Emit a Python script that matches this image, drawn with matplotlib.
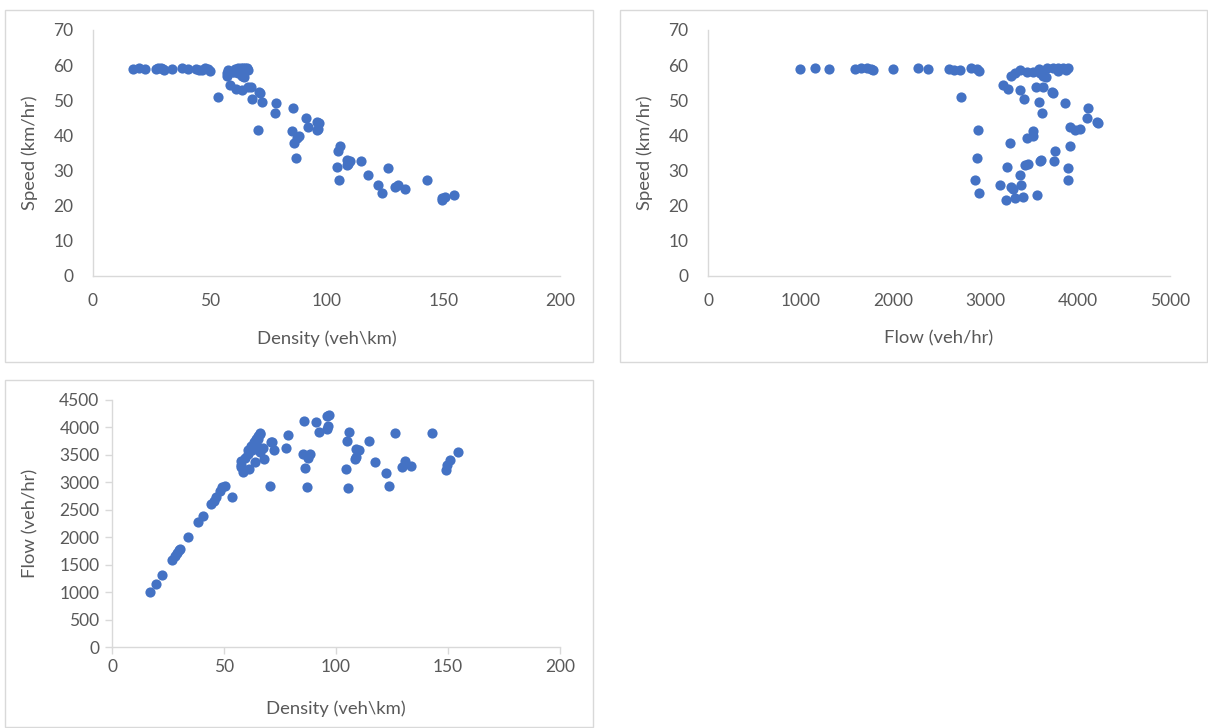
import matplotlib.pyplot as plt
from matplotlib.patches import Rectangle

# Traffic observations: density (veh/km), speed (km/hr), flow (veh/hr)
density = [17.0, 19.5, 22.3, 27.0, 28.0, 29.0, 30.0, 30.5, 34.0, 38.3, 40.5, 44.3, 45.5, 46.5, 48.0, 49.3, 50.3,
           57.6, 57.6, 57.7, 59.4, 60.5, 62.3, 63.7, 64.7, 62.0, 63.2, 64.1, 65.1, 66.2, 66.0, 65.0, 60.9,
           53.7, 58.7, 61.2, 63.8, 66.2, 67.5, 71.0, 71.6, 68.0, 72.2, 78.4, 77.8, 85.8, 91.2, 95.8, 96.8,
           92.2, 95.8, 96.5, 70.5, 85.1, 88.4, 87.5, 86.1, 86.9, 105.8, 105.1, 104.4, 105.5, 108.9, 110.1,
           108.6, 109.0, 114.6, 126.5, 117.6, 122.2, 123.6, 129.3, 130.8, 133.6, 142.9, 149.3, 149.6, 150.7,
           154.6]
speed = [58.8, 59.3, 58.9, 59.0, 59.2, 59.3, 58.9, 58.6, 58.8, 59.3, 58.8, 58.8, 58.6, 58.7, 59.2, 59.0, 58.4,
         57.0, 57.7, 58.6, 58.1, 58.1, 57.7, 56.9, 56.6, 59.1, 59.1, 59.1, 59.1, 58.6, 59.1, 58.3, 58.9,
         51.0, 54.4, 53.1, 52.9, 53.7, 53.7, 52.5, 52.2, 50.3, 49.6, 49.3, 46.5, 47.9, 45.0, 43.9, 43.6,
         42.5, 41.5, 41.7, 41.5, 41.3, 39.8, 39.4, 37.9, 33.5, 37.0, 35.7, 31.0, 27.4, 33.1, 32.6,
         31.6, 31.8, 32.7, 30.8, 28.7, 25.9, 23.7, 25.4, 25.9, 24.7, 27.3, 21.6, 22.2, 22.6,
         23.0]
flow = [1000, 1156, 1313, 1593, 1658, 1720, 1767, 1787, 2000, 2271, 2381, 2605, 2666, 2730, 2842, 2909, 2937,
        3283, 3323, 3381, 3451, 3515, 3595, 3625, 3662, 3664, 3735, 3788, 3847, 3879, 3901, 3790, 3587,
        2739, 3193, 3250, 3375, 3555, 3625, 3728, 3738, 3420, 3581, 3865, 3618, 4110, 4104, 4206, 4220,
        3918, 3976, 4024, 2926, 3515, 3518, 3447, 3263, 2911, 3915, 3752, 3236, 2891, 3604, 3589,
        3431, 3467, 3747, 3896, 3375, 3165, 2929, 3284, 3388, 3300, 3901, 3225, 3320, 3406,
        3556]

BLUE = "#4472C4"
TEXT = "#595959"
AXIS = "#D9D9D9"

plt.rcParams["font.family"] = ["Lato", "DejaVu Sans"]

fig = plt.figure(figsize=(12.08, 7.28), dpi=100)
W, H = 1208, 728

# panel frames
for x0, y0, x1, y1 in [(5, 10, 593, 362), (620, 10, 1207, 362), (5, 380, 593, 727)]:
    fig.patches.append(Rectangle((x0 / W, 1 - y1 / H), (x1 - x0) / W, (y1 - y0) / H,
                                 transform=fig.transFigure, fill=False, edgecolor=AXIS, linewidth=1))


def make_axes(left, right, top, bottom):
    ax = fig.add_axes([left / W, 1 - bottom / H, (right - left) / W, (bottom - top) / H])
    for side in ["top", "right"]:
        ax.spines[side].set_visible(False)
    for side in ["left", "bottom"]:
        ax.spines[side].set_color(AXIS)
        ax.spines[side].set_linewidth(1)
    ax.tick_params(colors=TEXT, labelsize=12.5)
    return ax


# 1. Speed vs density
ax1 = make_axes(93, 560, 30, 276)
ax1.scatter(density, speed, s=54, color=BLUE, zorder=3, linewidths=0)
ax1.set_xlim(0, 200)
ax1.set_ylim(0, 70)
ax1.set_xticks(range(0, 201, 50))
ax1.set_yticks(range(0, 71, 10))
ax1.tick_params(length=0, pad=12)
ax1.tick_params(axis="y", pad=14)
ax1.set_xlabel("Density (veh\\km)", color=TEXT, fontsize=13.3)
ax1.set_ylabel("Speed (km/hr)", color=TEXT, fontsize=13.3)
ax1.xaxis.set_label_coords(0.5, -0.22)
ax1.yaxis.set_label_coords(-0.118, 0.5)

# 2. Speed vs flow
ax2 = make_axes(708, 1170, 30, 276)
ax2.scatter(flow, speed, s=54, color=BLUE, zorder=3, linewidths=0)
ax2.set_xlim(0, 5000)
ax2.set_ylim(0, 70)
ax2.set_xticks(range(0, 5001, 1000))
ax2.set_yticks(range(0, 71, 10))
ax2.tick_params(length=0, pad=12)
ax2.tick_params(axis="y", pad=14)
ax2.set_xlabel("Flow (veh/hr)", color=TEXT, fontsize=13.3)
ax2.set_ylabel("Speed (km/hr)", color=TEXT, fontsize=13.3)
ax2.xaxis.set_label_coords(0.5, -0.22)
ax2.yaxis.set_label_coords(-0.119, 0.5)

# 3. Flow vs density
ax3 = make_axes(112, 560, 400, 647)
ax3.scatter(density, flow, s=54, color=BLUE, zorder=3, linewidths=0)
ax3.set_xlim(0, 200)
ax3.set_ylim(0, 4500)
ax3.set_xticks(range(0, 201, 50))
ax3.set_yticks(range(0, 4501, 500))
ax3.tick_params(length=5, width=1, color=AXIS, pad=4)
ax3.set_xlabel("Density (veh\\km)", color=TEXT, fontsize=13.3)
ax3.set_ylabel("Flow (veh/hr)", color=TEXT, fontsize=13.3)
ax3.xaxis.set_label_coords(0.5, -0.215)
ax3.yaxis.set_label_coords(-0.165, 0.5)

fig.savefig("out.png", dpi=100, facecolor="white")
